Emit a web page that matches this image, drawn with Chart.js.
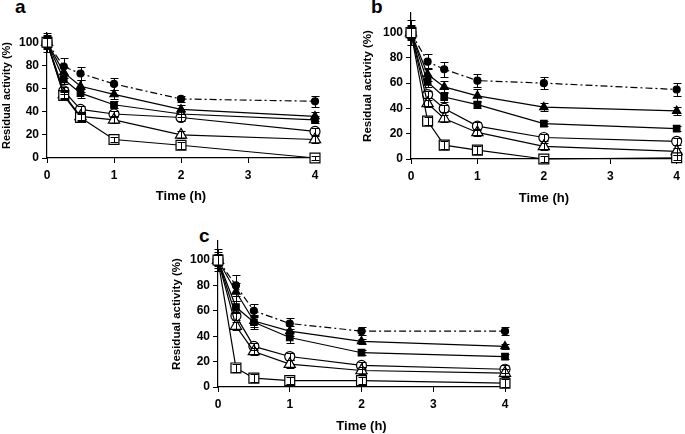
<!DOCTYPE html>
<html><head><meta charset="utf-8">
<script src="https://cdn.jsdelivr.net/npm/chart.js@4"></script>
<style>
html,body{margin:0;padding:0;background:#fff;width:685px;height:434px;overflow:hidden;position:relative;font-family:"Liberation Sans",Arial,sans-serif}
canvas{position:absolute}
.lbl{position:absolute;font-weight:bold;font-size:19px;line-height:1;color:#000}
</style></head><body>
<div class="lbl" style="left:15px;top:-3px">a</div>
<div class="lbl" style="left:371px;top:-3px">b</div>
<div class="lbl" style="left:199px;top:226px">c</div>
<canvas id="ca" width="340" height="210" style="left:0;top:0"></canvas>
<canvas id="cb" width="345" height="210" style="left:340px;top:0"></canvas>
<canvas id="cc" width="360" height="219" style="left:160px;top:215px"></canvas>
<script>
const times = [0, 0.25, 0.5, 1, 2, 4];
const xTickLabels = ['0', '1', '2', '3', '4'];
const yTickValues = [0, 20, 40, 60, 80, 100];
const xTitle = 'Time (h)';
const yTitle = 'Residual activity (%)';

// Panel a
const aFilledCircle   = [100, 79, 73, 64, 51, 49];
const aFilledTriangle = [100, 74, 62, 55, 42, 36];
const aFilledSquare   = [100, 68, 56, 46, 38, 33];
const aOpenCircle     = [100, 58, 42, 38, 35, 23];
const aOpenTriangle   = [100, 55, 36, 33, 20, 16];
const aOpenSquare     = [100, 54, 35, 16, 11, 0];
const aErrFilledCircle   = [8, 7, 6, 5, 3, 5];
const aErrFilledTriangle = [6, 5, 5, 4, 4, 4];
const aErrFilledSquare   = [5, 4, 4, 3, 3, 3];
const aErrOpenCircle     = [4, 3, 3, 3, 3, 3];
const aErrOpenTriangle   = [4, 3, 3, 3, 3, 3];
const aErrOpenSquare     = [4, 3, 3, 2, 3, 2];

// Panel b
const bFilledCircle   = [100, 77, 71, 62, 60, 55];
const bFilledTriangle = [100, 67, 57, 50, 41, 38];
const bFilledSquare   = [100, 61, 49, 43, 28, 24];
const bOpenCircle     = [100, 51, 40, 26, 17, 14];
const bOpenTriangle   = [100, 44, 32, 21, 10, 6];
const bOpenSquare     = [100, 30, 11, 7, 0, 1];
const bErrFilledCircle   = [10, 6, 6, 5, 5, 5];
const bErrFilledTriangle = [6, 5, 5, 5, 3, 3];
const bErrFilledSquare   = [5, 4, 4, 3, 2, 2];
const bErrOpenCircle     = [4, 3, 3, 3, 3, 3];
const bErrOpenTriangle   = [4, 3, 3, 3, 3, 3];
const bErrOpenSquare     = [4, 3, 3, 3, 2, 2];

// Panel c
const cFilledCircle   = [100, 80, 60, 50, 44, 44];
const cFilledTriangle = [100, 75, 52, 44, 36, 32];
const cFilledSquare   = [100, 63, 51, 39, 27, 24];
const cOpenCircle     = [100, 56, 32, 24, 17, 14];
const cOpenTriangle   = [100, 48, 28, 18, 13, 11];
const cOpenSquare     = [100, 15, 7, 5, 5, 3];
const cErrFilledCircle   = [9, 8, 5, 4, 3, 3];
const cErrFilledTriangle = [6, 7, 5, 4, 2, 2];
const cErrFilledSquare   = [5, 5, 5, 4, 2, 2];
const cErrOpenCircle     = [4, 3, 3, 3, 3, 3];
const cErrOpenTriangle   = [4, 3, 3, 3, 3, 3];
const cErrOpenSquare     = [4, 3, 3, 3, 3, 3];

const FONT = '"Liberation Sans", Arial, sans-serif';

const errorBarPlugin = {
  id: 'errbars',
  afterDatasetsDraw(chart) {
    const {ctx} = chart; const x = chart.scales.x, y = chart.scales.y;
    ctx.save(); ctx.strokeStyle = '#000'; ctx.lineWidth = 1;
    chart.data.datasets.forEach(ds => {
      if (!ds.errors) return;
      ds.data.forEach((p, j) => {
        const e = ds.errors[j]; if (!e) return;
        const px = Math.round(x.getPixelForValue(p.x)) + 0.5;
        const top = Math.round(y.getPixelForValue(p.y + e)) + 0.5;
        const bot = Math.round(y.getPixelForValue(p.y - e)) + 0.5;
        ctx.beginPath();
        ctx.moveTo(px, top); ctx.lineTo(px, bot);
        ctx.moveTo(px - 4, top); ctx.lineTo(px + 4, top);
        ctx.moveTo(px - 4, bot); ctx.lineTo(px + 4, bot);
        ctx.stroke();
      });
    });
    ctx.restore();
  }
};

function toPts(vals) { return times.map((t, i) => ({x: t, y: vals[i]})); }

function makeDatasets(s, e) {
  const base = {borderColor: '#000', borderWidth: 1.2, pointBorderColor: '#000', pointBorderWidth: 1.2, tension: 0, clip: false, showLine: true};
  return [
    Object.assign({}, base, {label: 'open square', data: toPts(s[5]), errors: e[5], pointStyle: 'rect', pointRadius: 7, pointBackgroundColor: '#fff'}),
    Object.assign({}, base, {label: 'open triangle', data: toPts(s[4]), errors: e[4], pointStyle: 'triangle', pointRadius: 6.5, pointBackgroundColor: '#fff'}),
    Object.assign({}, base, {label: 'open circle', data: toPts(s[3]), errors: e[3], pointStyle: 'circle', pointRadius: 5, pointBackgroundColor: '#fff'}),
    Object.assign({}, base, {label: 'filled square', data: toPts(s[2]), errors: e[2], pointStyle: 'rect', pointRadius: 4.6, pointBackgroundColor: '#000'}),
    Object.assign({}, base, {label: 'filled triangle', data: toPts(s[1]), errors: e[1], pointStyle: 'triangle', pointRadius: 4.8, pointBackgroundColor: '#000'}),
    Object.assign({}, base, {label: 'filled circle', data: toPts(s[0]), errors: e[0], pointStyle: 'circle', pointRadius: 3.5, pointBackgroundColor: '#000', borderDash: [7, 3, 2, 3]})
  ];
}

function makeChart(id, s, e, L) {
  new Chart(document.getElementById(id), {
    type: 'scatter',
    data: {datasets: makeDatasets(s, e)},
    plugins: [errorBarPlugin],
    options: {
      responsive: false, animation: false, devicePixelRatio: 1,
      layout: {padding: {left: 0, top: L.top, right: L.right, bottom: 0}},
      plugins: {legend: {display: false}, tooltip: {enabled: false}},
      scales: {
        x: {
          type: 'linear', min: 0, max: 4,
          afterBuildTicks: ax => { ax.ticks = xTickLabels.map(v => ({value: Number(v)})); },
          afterFit: ax => { ax.height = L.xh; },
          ticks: {color: '#000', font: {family: FONT, size: 12, weight: 'bold'}, padding: 5,
                  callback: v => xTickLabels.includes(String(v)) ? String(v) : ''},
          grid: {display: true, drawOnChartArea: false, drawTicks: true, tickLength: 5, color: '#000', lineWidth: 1},
          border: {display: true, color: '#000', width: 1.2},
          title: {display: true, text: xTitle, color: '#000', font: {family: FONT, size: 13, weight: 'bold'}, padding: {top: 0, bottom: L.xtp}}
        },
        y: {
          type: 'linear', min: 0, max: L.ymax,
          afterBuildTicks: ax => { ax.ticks = yTickValues.map(v => ({value: v})); },
          afterFit: ax => { ax.width = L.yw; },
          ticks: {color: '#000', font: {family: FONT, size: 12, weight: 'bold'}, padding: 3},
          grid: {display: true, drawOnChartArea: false, drawTicks: true, tickLength: 5, color: '#000', lineWidth: 1},
          border: {display: true, color: '#000', width: 1.2},
          title: {display: true, text: yTitle, color: '#000', font: {family: FONT, size: L.yts, weight: 'bold'}, padding: {top: L.ytp, bottom: 0}}
        }
      }
    }
  });
}

makeChart('ca',
  [aFilledCircle, aFilledTriangle, aFilledSquare, aOpenCircle, aOpenTriangle, aOpenSquare],
  [aErrFilledCircle, aErrFilledTriangle, aErrFilledSquare, aErrOpenCircle, aErrOpenTriangle, aErrOpenSquare],
  {top: 33, right: 25, xh: 52, yw: 47, xtp: 6, ytp: 0, yts: 11, ymax: 108});
makeChart('cb',
  [bFilledCircle, bFilledTriangle, bFilledSquare, bOpenCircle, bOpenTriangle, bOpenSquare],
  [bErrFilledCircle, bErrFilledTriangle, bErrFilledSquare, bErrOpenCircle, bErrOpenTriangle, bErrOpenSquare],
  {top: 13, right: 7, xh: 51, yw: 71, xtp: 4, ytp: 21, yts: 11.5, ymax: 115.5});
makeChart('cc',
  [cFilledCircle, cFilledTriangle, cFilledSquare, cOpenCircle, cOpenTriangle, cOpenSquare],
  [cErrFilledCircle, cErrFilledTriangle, cErrFilledSquare, cErrOpenCircle, cErrOpenTriangle, cErrOpenSquare],
  {top: 26, right: 15, xh: 47, yw: 58, xtp: 0, ytp: 10, yts: 11.5, ymax: 115});
</script>
</body></html>
